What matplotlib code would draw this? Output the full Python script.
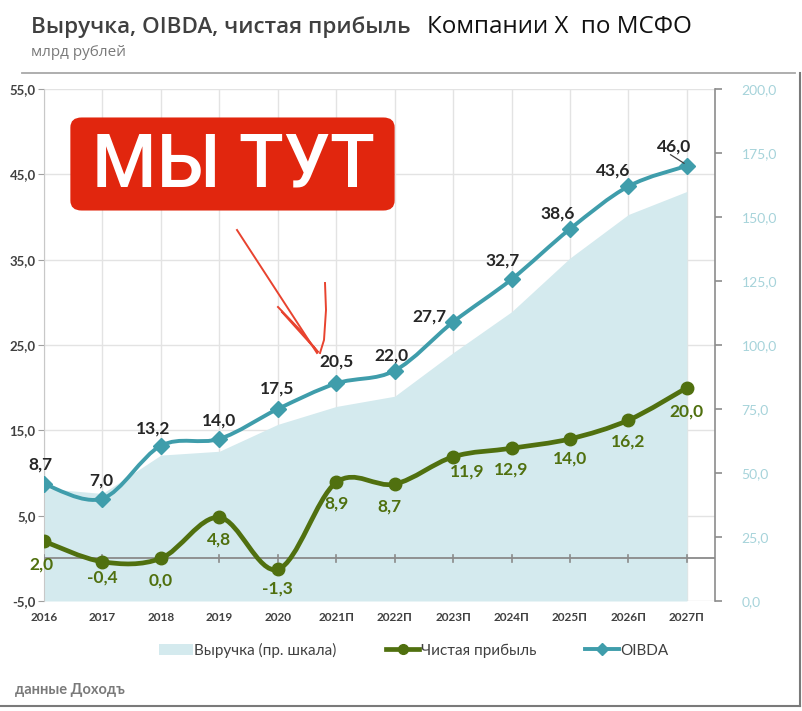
import numpy as np
import matplotlib
matplotlib.use('Agg')
from matplotlib import pyplot as plt
from matplotlib.path import Path
from matplotlib.patches import PathPatch, FancyBboxPatch, Patch
from matplotlib.lines import Line2D

plt.rcParams['font.family'] = ['Lato', 'DejaVu Sans']

# data
years = ['2016', '2017', '2018', '2019', '2020', '2021П', '2022П',
         '2023П', '2024П', '2025П', '2026П', '2027П']
oibda = [8.7, 7.0, 13.2, 14.0, 17.5, 20.5, 22.0, 27.7, 32.7, 38.6, 43.6, 46.0]
net_profit = [2.0, -0.4, 0.0, 4.8, -1.3, 8.9, 8.7, 11.9, 12.9, 14.0, 16.2, 20.0]
revenue = [44, 42, 57, 58.5, 69, 76, 80, 97, 113, 134, 151, 160]  # right scale

# label offsets in pixels (dx, dy)
oibda_lbl_off = [(-4, 20), (-1, 18), (-8, 17), (0, 18), (-1, 20), (0, 22),
                 (-3, 15), (-24, 5), (-9, 19), (-12, 15), (-15, 16), (-13, 19)]
np_lbl_off = [(-3, -23), (0, -16), (0, -22), (0, -22), (0, -19), (0, -21),
              (-5, -22), (14, -15), (0, -21), (0, -20), (0, -21), (0, -24)]

c_oibda = '#3f9dab'
c_np = '#50700f'
c_area = '#d4eaee'
c_grid = '#e3e3e3'
c_txt = '#404040'


def smooth_path(x, y):
    # excel-like smoothed line: catmull-rom turned into bezier pieces
    x = np.asarray(x, float)
    y = np.asarray(y, float)
    n = len(x)
    verts = [(x[0], y[0])]
    codes = [Path.MOVETO]
    for i in range(n - 1):
        x0, y0 = (x[i - 1], y[i - 1]) if i > 0 else (x[i], y[i])
        x3, y3 = (x[i + 2], y[i + 2]) if i + 2 < n else (x[i + 1], y[i + 1])
        c1 = (x[i] + (x[i + 1] - x0) / 6, y[i] + (y[i + 1] - y0) / 6)
        c2 = (x[i + 1] - (x3 - x[i]) / 6, y[i + 1] - (y3 - y[i]) / 6)
        verts += [c1, c2, (x[i + 1], y[i + 1])]
        codes += [Path.CURVE4] * 3
    return Path(verts, codes)


fig = plt.figure(figsize=(8.03, 7.11), dpi=100)
ax = fig.add_axes([0.0548, 0.1547, 0.8356, 0.7201])
ax2 = ax.twinx()

xs = np.arange(len(years))

# revenue area on the right scale, drawn beneath
ax2.fill_between(xs, 0, revenue, color=c_area, lw=0, zorder=1)
ax2.set_ylim(0, 200)
ax2.set_yticks(np.arange(0, 201, 25))
ax2.set_yticklabels(['{:.1f}'.format(v).replace('.', ',') for v in np.arange(0, 201, 25)])
ax2.tick_params(axis='y', colors='#a6d3da', labelsize=10, length=5, width=1.2, pad=14)
ax2.tick_params(axis='y', color='#8c8c8c')

ax.set_zorder(2)
ax.patch.set_visible(False)

# gridlines of the left axis sit under the area: draw them on ax2 behind area
for v in np.arange(-5, 56, 10):
    ax2.axhline((v + 5) * 200 / 60, color=c_grid, lw=1, zorder=0)
for i in xs:
    ax2.axvline(i, color=c_grid, lw=1, zorder=0)

ax.set_xlim(0, 11.48)
ax.set_ylim(-5, 55)
ax.set_yticks(np.arange(-5, 56, 10))
ax.set_yticklabels(['{:.1f}'.format(v).replace('.', ',') for v in np.arange(-5, 56, 10)],
                   fontweight='bold')
ax.tick_params(axis='y', labelsize=9.5, labelcolor=c_txt, color='#a0a0a0', length=4, pad=2)
ax.set_xticks(xs)
ax.set_xticklabels(years, fontweight='bold')
ax.tick_params(axis='x', labelsize=8.5, labelcolor=c_txt, length=0, pad=8)

# zero line with small ticks
ax.axhline(0, color='#8a8a8a', lw=1.3, zorder=3)
for i in xs:
    ax.plot([i, i], [-0.4, 0.4], color='#8a8a8a', lw=1.2, zorder=3)

for a in (ax, ax2):
    a.spines['top'].set_visible(False)
    a.spines['bottom'].set_visible(False)
ax.spines['left'].set_color('#c8c8c8')
ax.spines['right'].set_visible(False)
ax2.spines['left'].set_visible(False)
ax2.spines['right'].set_color('#8c8c8c')
ax2.spines['right'].set_linewidth(1.2)

# lines
ax.add_patch(PathPatch(smooth_path(xs, oibda), fill=False, ec=c_oibda, lw=2.8,
                       capstyle='round', zorder=4))
ax.plot(xs, oibda, 'D', color=c_oibda, ms=8.5, zorder=5)
ax.add_patch(PathPatch(smooth_path(xs, net_profit), fill=False, ec=c_np, lw=3.4,
                       capstyle='round', zorder=4))
ax.plot(xs, net_profit, 'o', color=c_np, ms=9, zorder=5)

for i, v in enumerate(oibda):
    dx, dy = oibda_lbl_off[i]
    ax.annotate('{:.1f}'.format(v).replace('.', ','), (i, v), xytext=(dx * 0.72, dy * 0.72),
                textcoords='offset points', ha='center', va='center', fontsize=12.5,
                fontweight='bold', color='#262626', zorder=6)
ax.plot([10.72, 10.95], [47.3, 46.3], color='#404040', lw=0.9, zorder=6)

for i, v in enumerate(net_profit):
    dx, dy = np_lbl_off[i]
    ax.annotate('{:.1f}'.format(v).replace('.', ','), (i, v), xytext=(dx * 0.72, dy * 0.72),
                textcoords='offset points', ha='center', va='center', fontsize=12.5,
                fontweight='bold', color=c_np, zorder=6)

# titles
fig.text(31 / 803, 1 - 27 / 711, 'Выручка, OIBDA, чистая прибыль', fontsize=16.1,
         fontweight='semibold', family='Open Sans', color=c_txt, va='center', ha='left')
fig.text(427 / 803, 1 - 27 / 711, 'Компании X  по МСФО', fontsize=17.4,
         color='#111111', va='center', ha='left', family='Open Sans')
fig.text(31 / 803, 1 - 53 / 711, 'млрд рублей', fontsize=11, color='#7a7a7a',
         va='center', ha='left', family='Open Sans')

# frame lines
fig.add_artist(Line2D([22 / 803, 795 / 803], [1 - 73 / 711] * 2, color='#a8a8a8', lw=1.3))
fig.add_artist(Line2D([800 / 803] * 2, [1 - 73 / 711, 1 - 706 / 711], color='#7a7a7a', lw=1.5))
fig.add_artist(Line2D([0, 800 / 803], [1 - 706 / 711] * 2, color='#7a7a7a', lw=1.5))

# red sticker
fig.add_artist(FancyBboxPatch((80 / 803, 1 - 202 / 711), 305 / 803, 76 / 711,
                              boxstyle='round,pad=0.012,rounding_size=0.014',
                              transform=fig.transFigure, fc='#e1260e', ec='none',
                              zorder=10))
fig.text(233 / 803, 1 - 166 / 711, 'МЫ ТУТ', fontsize=53, color='white',
         family='Roboto', fontweight='medium', ha='center', va='center', zorder=11)

# hand-drawn arrow
def px(xp, yp):
    return (np.asarray(xp) / 803, 1 - np.asarray(yp) / 711)

for xp, yp in [([237, 317], [230, 353]),
               ([278, 300, 318, 282], [307, 330, 352, 312]),
               ([325, 326, 324, 320], [283, 310, 340, 353])]:
    fx, fy = px(xp, yp)
    fig.add_artist(Line2D(fx, fy, color='#e8432f', lw=1.4, zorder=12))

# legend
handles = [Patch(fc=c_area, ec='none'),
           Line2D([], [], color=c_np, lw=3.4, marker='o', ms=7),
           Line2D([], [], color=c_oibda, lw=2.8, marker='D', ms=6)]
fig.legend(handles, ['Выручка (пр. шкала)', 'Чистая прибыль', 'OIBDA'],
           loc='center', bbox_to_anchor=(414 / 803, 1 - 650 / 711), ncol=3,
           frameon=False, fontsize=11, labelcolor=c_txt, handlelength=2.2,
           handletextpad=0.1, columnspacing=3.2)

fig.text(15 / 803, 1 - 690 / 711, 'данные Доходъ', fontsize=10.5, fontweight='bold',
         color='#7a7a7a', va='center', ha='left')

fig.savefig('out.png', dpi=100)
